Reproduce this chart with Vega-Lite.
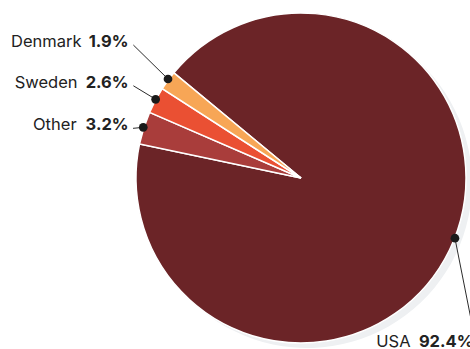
{
  "$schema": "https://vega.github.io/schema/vega-lite/v6.json",
  "width": 470,
  "height": 349,
  "autosize": "none",
  "padding": 0,
  "background": "white",
  "config": {"view": {"stroke": null}},
  "data": {
    "values": [
      {"country": "USA", "share": 0.924, "dotX": 0.933, "dotY": -0.365, "lineX": 1.045, "lineY": -0.93, "nameX": 0.664, "valueX": 1.045, "textY": -1.022},
      {"country": "Other", "share": 0.032, "dotX": -0.956, "dotY": 0.307, "lineX": -1.018, "lineY": 0.301, "nameX": -1.36, "valueX": -1.045, "textY": 0.291},
      {"country": "Sweden", "share": 0.026, "dotX": -0.881, "dotY": 0.477, "lineX": -1.016, "lineY": 0.559, "nameX": -1.354, "valueX": -1.045, "textY": 0.544},
      {"country": "Denmark", "share": 0.019, "dotX": -0.806, "dotY": 0.6, "lineX": -1.016, "lineY": 0.806, "nameX": -1.33, "valueX": -1.045, "textY": 0.796}
    ]
  },
  "layer": [
    {
      "mark": {"type": "arc", "outerRadius": 165, "color": "#eef0f2", "xOffset": 6, "yOffset": 5},
      "encoding": {
        "theta": {"field": "share", "type": "quantitative", "stack": true, "scale": {"range": [5.4036, 11.6868]}},
        "order": {"field": "share", "sort": "descending"},
        "x": {"datum": 0, "type": "quantitative", "scale": {"domain": [-1.8242, 1.0242], "nice": false, "zero": false}, "axis": null},
        "y": {"datum": 0, "type": "quantitative", "scale": {"domain": [-1.0364, 1.0788], "nice": false, "zero": false}, "axis": null}
      }
    },
    {
      "mark": {"type": "arc", "outerRadius": 165, "stroke": "white", "strokeWidth": 1.5},
      "encoding": {
        "theta": {"field": "share", "type": "quantitative", "stack": true},
        "order": {"field": "share", "sort": "descending"},
        "color": {
          "field": "country",
          "type": "nominal",
          "scale": {"domain": ["USA", "Other", "Sweden", "Denmark"], "range": ["#6b2427", "#a93d3b", "#ea5033", "#f7a656"]},
          "legend": null
        },
        "x": {"datum": 0, "type": "quantitative"},
        "y": {"datum": 0, "type": "quantitative"}
      }
    },
    {
      "mark": {"type": "rule", "color": "#2b2b2b", "strokeWidth": 1},
      "encoding": {
        "x": {"field": "dotX", "type": "quantitative"},
        "y": {"field": "dotY", "type": "quantitative"},
        "x2": {"field": "lineX"},
        "y2": {"field": "lineY"}
      }
    },
    {
      "mark": {"type": "point", "filled": true, "size": 76, "color": "#1a1a1a", "opacity": 1},
      "encoding": {
        "x": {"field": "dotX", "type": "quantitative"},
        "y": {"field": "dotY", "type": "quantitative"}
      }
    },
    {
      "mark": {"type": "text", "align": "right", "baseline": "alphabetic", "font": "Inter", "fontSize": 16.5, "color": "#222222"},
      "encoding": {
        "x": {"field": "nameX", "type": "quantitative"},
        "y": {"field": "textY", "type": "quantitative"},
        "text": {"field": "country"}
      }
    },
    {
      "mark": {"type": "text", "align": "right", "baseline": "alphabetic", "font": "Inter", "fontSize": 16.5, "fontWeight": "bold", "color": "#222222"},
      "encoding": {
        "x": {"field": "valueX", "type": "quantitative"},
        "y": {"field": "textY", "type": "quantitative"},
        "text": {"field": "share", "type": "quantitative", "format": ".1%"}
      }
    }
  ]
}
